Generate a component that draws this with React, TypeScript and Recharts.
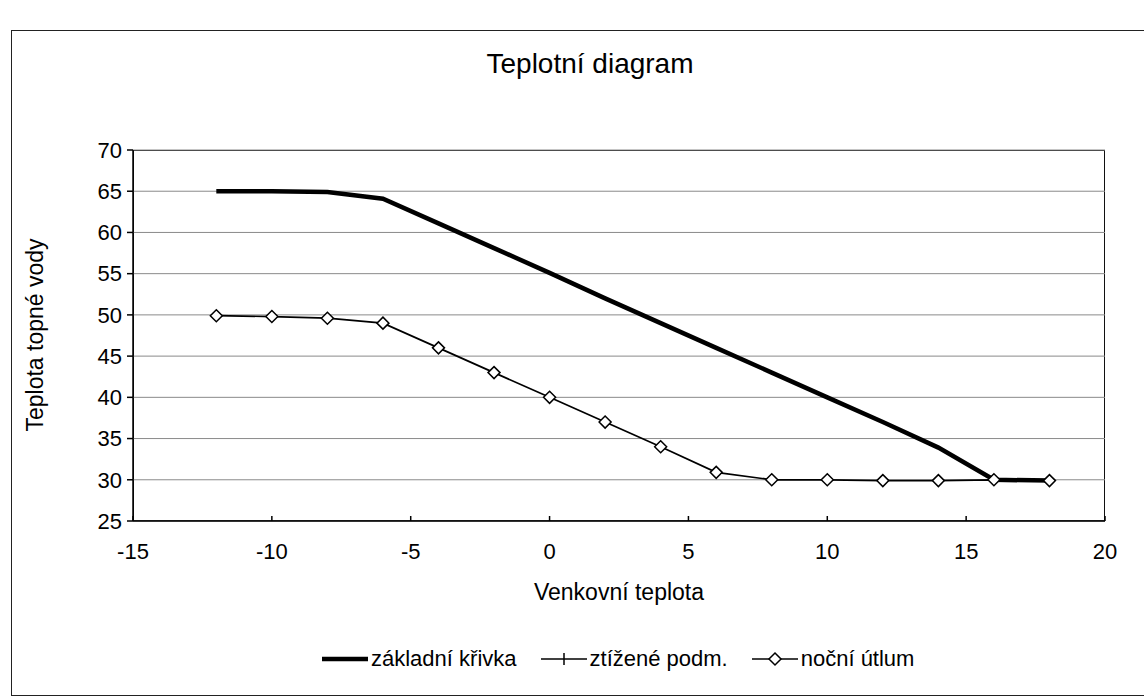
import React from 'react';
import { LineChart, Line, XAxis, YAxis, CartesianGrid, Legend } from 'recharts';

// outdoor temperature (°C) on the x axis
const outdoorTemps = [-12, -10, -8, -6, -4, -2, 0, 2, 4, 6, 8, 10, 12, 14, 16, 18];

// heating water temperature for each series
const baseCurve = [65.0, 65.0, 64.9, 64.1, 61.1, 58.1, 55.1, 52.0, 49.0, 46.0, 43.0, 40.0, 37.0, 33.9, 30.0, 29.9];
const hardConditions = [null, null, null, null, null, null, null, null, null, null, null, null, null, null, null, null];
const nightSetback = [49.9, 49.8, 49.6, 49.0, 46.0, 43.0, 40.0, 37.0, 34.0, 30.9, 30.0, 30.0, 29.9, 29.9, 30.0, 29.9];

const xTicks = [-15, -10, -5, 0, 5, 10, 15, 20];
const yTicks = [25, 30, 35, 40, 45, 50, 55, 60, 65, 70];

const seriesNames = ['základní křivka', 'ztížené podm.', 'noční útlum'];

const FONT = '"Liberation Sans", Arial, sans-serif';

const data = outdoorTemps.map((t, i) => ({
  t,
  base: baseCurve[i],
  hard: hardConditions[i],
  night: nightSetback[i],
}));

function Diamond(props: any) {
  const { cx, cy, index } = props;
  if (cx == null || cy == null) return <g key={`d-${index}`} />;
  const r = 6;
  return (
    <polygon
      key={`d-${index}`}
      points={`${cx},${cy - r} ${cx + r},${cy} ${cx},${cy + r} ${cx - r},${cy}`}
      fill="#fff"
      stroke="#000"
      strokeWidth={1.5}
    />
  );
}

function LegendIcon({ kind }: { kind: number }) {
  return (
    <svg width={46} height={20} style={{ display: 'block' }}>
      {kind === 0 && <line x1={0} y1={10} x2={46} y2={10} stroke="#000" strokeWidth={4.5} />}
      {kind === 1 && (
        <>
          <line x1={0} y1={10} x2={46} y2={10} stroke="#000" strokeWidth={1.5} />
          <line x1={23} y1={4} x2={23} y2={16} stroke="#000" strokeWidth={1.5} />
        </>
      )}
      {kind === 2 && (
        <>
          <line x1={0} y1={10} x2={46} y2={10} stroke="#000" strokeWidth={1.5} />
          <polygon points="23,4 29,10 23,16 17,10" fill="#fff" stroke="#000" strokeWidth={1.5} />
        </>
      )}
    </svg>
  );
}

function LegendContent() {
  return (
    <div style={{ display: 'flex', alignItems: 'center', fontFamily: FONT, fontSize: 22, color: '#000', whiteSpace: 'nowrap' }}>
      {seriesNames.map((name, i) => (
        <div key={name} style={{ display: 'flex', alignItems: 'center', marginRight: 24 }}>
          <LegendIcon kind={i} />
          <span style={{ marginLeft: 3 }}>{name}</span>
        </div>
      ))}
    </div>
  );
}

export default function App() {
  return (
    <div style={{ position: 'absolute', left: 0, top: 0, width: 1144, height: 700, background: '#fff', overflow: 'hidden' }}>
      {/* chart frame */}
      <div style={{ position: 'absolute', left: 11, top: 30, width: 1160, height: 664, border: '1.5px solid #222' }} />
      {/* plot area border */}
      <div style={{ position: 'absolute', left: 133, top: 150, width: 972, height: 371, border: '1px solid #111', boxSizing: 'border-box' }} />
      <div style={{ position: 'absolute', left: 0, width: 1180, top: 48, textAlign: 'center', fontFamily: FONT, fontSize: 28 }}>
        Teplotní diagram
      </div>
      <div style={{ position: 'absolute', left: 133, width: 972, top: 579, textAlign: 'center', fontFamily: FONT, fontSize: 23 }}>
        Venkovní teplota
      </div>
      <div
        style={{
          position: 'absolute',
          left: 35,
          top: 335,
          transform: 'translate(-50%, -50%) rotate(-90deg)',
          fontFamily: FONT,
          fontSize: 23,
          whiteSpace: 'nowrap',
        }}
      >
        Teplota topné vody
      </div>
      <div style={{ position: 'absolute', left: 0, top: 0 }}>
        <LineChart width={1144} height={700} data={data} margin={{ top: 150, right: 39, left: 73, bottom: 139 }}>
          <CartesianGrid vertical={false} horizontal stroke="#8a8a8a" strokeWidth={1} />
          <XAxis
            dataKey="t"
            type="number"
            domain={[-15, 20]}
            ticks={xTicks}
            height={40}
            stroke="#000"
            strokeWidth={1.5}
            tickSize={-5}
            tickMargin={27}
            tick={{ fill: '#000', fontSize: 22, fontFamily: FONT }}
          />
          <YAxis
            type="number"
            domain={[25, 70]}
            ticks={yTicks}
            width={60}
            stroke="#000"
            strokeWidth={1.5}
            tickSize={6}
            tickMargin={5}
            tick={{ fill: '#000', fontSize: 22, fontFamily: FONT }}
          />
          <Legend
            layout="horizontal"
            verticalAlign="middle"
            align="center"
            content={<LegendContent />}
            wrapperStyle={{ position: 'absolute', left: 322, top: 646, width: 'auto', height: 24 }}
          />
          <Line
            dataKey="base"
            name={seriesNames[0]}
            stroke="#000"
            strokeWidth={4.5}
            dot={false}
            activeDot={false}
            isAnimationActive={false}
          />
          <Line
            dataKey="hard"
            name={seriesNames[1]}
            stroke="#000"
            strokeWidth={1.5}
            dot={false}
            activeDot={false}
            isAnimationActive={false}
          />
          <Line
            dataKey="night"
            name={seriesNames[2]}
            stroke="#000"
            strokeWidth={1.7}
            dot={<Diamond />}
            activeDot={false}
            isAnimationActive={false}
          />
        </LineChart>
      </div>
    </div>
  );
}
